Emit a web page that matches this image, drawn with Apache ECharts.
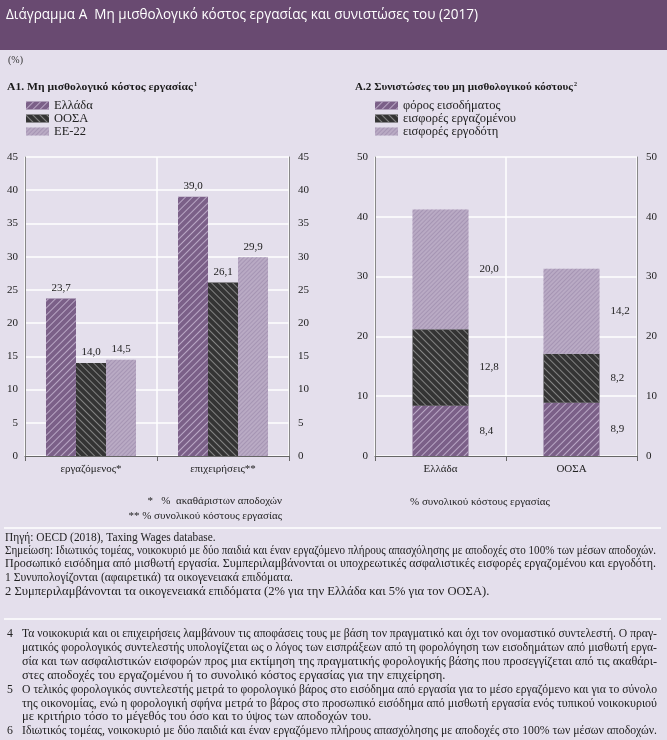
<!DOCTYPE html>
<html>
<head>
<meta charset="utf-8">
<script src="https://cdn.jsdelivr.net/npm/echarts@6/dist/echarts.min.js"></script>
<style>
html,body{margin:0;padding:0;background:#E4DFEC;}
#chart{width:667px;height:740px;}
</style>
</head>
<body>
<div id="chart"></div>
<script>
// ---- Data ----
const catA1 = ['εργαζόμενος*', 'επιχειρήσεις**'];
const greeceA1 = [23.7, 39.0];
const oecdA1 = [14.0, 26.1];
const eu22A1 = [14.5, 29.9];
const seriesNamesA1 = ['Ελλάδα', 'ΟΟΣΑ', 'ΕΕ-22'];

const catA2 = ['Ελλάδα', 'ΟΟΣΑ'];
const incomeTax = [8.4, 8.9];
const employeeSSC = [12.8, 8.2];
const employerSSC = [20.0, 14.2];
const seriesNamesA2 = ['φόρος εισοδήματος', 'εισφορές εργαζομένου', 'εισφορές εργοδότη'];

// ---- Texts ----
const titleText = 'Διάγραμμα Α  Μη μισθολογικό κόστος εργασίας και συνιστώσες του (2017)';
const unitText = '(%)';
const subA1 = 'A1. Μη μισθολογικό κόστος εργασίας';
const subA2 = 'A.2 Συνιστώσες του μη μισθολογικού κόστους';
const starNote1 = '*   %  ακαθάριστων αποδοχών';
const starNote2 = '** % συνολικού κόστους εργασίας';
const a2Note = '% συνολικού κόστους εργασίας';
const notesLines = [
  'Πηγή: OECD (2018), Taxing Wages database.',
  'Σημείωση: Ιδιωτικός τομέας, νοικοκυριό με δύο παιδιά και έναν εργαζόμενο πλήρους απασχόλησης με αποδοχές στο 100% των μέσων αποδοχών.',
  'Προσωπικό εισόδημα από μισθωτή εργασία. Συμπεριλαμβάνονται οι υποχρεωτικές ασφαλιστικές εισφορές εργαζομένου και εργοδότη.',
  '1 Συνυπολογίζονται (αφαιρετικά) τα οικογενειακά επιδόματα.',
  '2 Συμπεριλαμβάνονται τα οικογενειακά επιδόματα (2% για την Ελλάδα και 5% για τον ΟΟΣΑ).'
];
const footNums = ['4', '5', '6'];
const footLines = [
  ['Τα νοικοκυριά και οι επιχειρήσεις λαμβάνουν τις αποφάσεις τους με βάση τον πραγματικό και όχι τον ονομαστικό συντελεστή. Ο πραγ-',
   'ματικός φορολογικός συντελεστής υπολογίζεται ως ο λόγος των εισπράξεων από τη φορολόγηση των εισοδημάτων από μισθωτή εργα-',
   'σία και των ασφαλιστικών εισφορών προς μια εκτίμηση της πραγματικής φορολογικής βάσης που προσεγγίζεται από τις ακαθάρι-',
   'στες αποδοχές του εργαζομένου ή το συνολικό κόστος εργασίας για την επιχείρηση.'],
  ['Ο τελικός φορολογικός συντελεστής μετρά το φορολογικό βάρος στο εισόδημα από εργασία για το μέσο εργαζόμενο και για το σύνολο',
   'της οικονομίας, ενώ η φορολογική σφήνα μετρά το βάρος στο προσωπικό εισόδημα από μισθωτή εργασία ενός τυπικού νοικοκυριού',
   'με κριτήριο τόσο το μέγεθός του όσο και το ύψος των αποδοχών του.'],
  ['Ιδιωτικός τομέας, νοικοκυριό με δύο παιδιά και έναν εργαζόμενο πλήρους απασχόλησης με αποδοχές στο 100% των μέσων αποδοχών.']
];

// ---- Layout / style ----
const SERIF = '"Liberation Serif", "DejaVu Serif", serif';
const BG = '#E4DFEC';
const fmt = v => Number(v).toFixed(1).replace('.', ',');

const styles = {
  greece: { color: '#7B6088', decal: { symbol: 'rect', symbolSize: 1, dashArrayX: [1, 0], dashArrayY: [1, 3.4], rotation: -Math.PI / 4, color: 'rgba(196,180,208,0.85)' } },
  oecd:   { color: '#343434', decal: { symbol: 'rect', symbolSize: 1, dashArrayX: [1, 0], dashArrayY: [1, 3.4], rotation: Math.PI / 4, color: 'rgba(140,140,140,0.9)' } },
  eu:     { color: '#B9AAC4', decal: { symbol: 'rect', symbolSize: 1, dashArrayX: [1, 0], dashArrayY: [0.8, 1.4], rotation: -Math.PI / 4, color: 'rgba(150,132,165,0.55)' } }
};

const cv = document.createElement('canvas').getContext('2d');
function measure(t, font) { cv.font = font; return cv.measureText(t).width; }
function textEl(t, font, x, y, s, fill, align) {
  return { type: 'text', x: x, y: y, scaleX: s, silent: true,
    style: { text: t, font: font, fill: fill || '#222', align: align || 'left', verticalAlign: 'middle' } };
}
function fitText(t, font, x, y, w, fill, align) {
  const m = measure(t, font);
  return textEl(t, font, x, y, w ? w / m : 1, fill, align);
}

const graphics = [];
graphics.push({ type: 'rect', shape: { x: 0, y: 0, width: 667, height: 50 }, style: { fill: '#694A71' }, silent: true, z: -1 });
graphics.push(fitText(titleText, '14px "Open Sans"', 6, 15, 472, '#FFFFFF'));
graphics.push(fitText(unitText, '10px ' + SERIF, 8, 60, 0, '#333'));
// subtitles with superscripts
const subFont = 'bold 11px ' + SERIF;
const supStyle = { font: 'bold 6px ' + SERIF, fill: '#1a1a1a', verticalAlign: 'top', padding: [0, 0, 6, 1] };
const sA1 = 186 / measure(subA1, subFont);
graphics.push({ type: 'text', x: 7, y: 87, scaleX: sA1, silent: true,
  style: { text: '{a|' + subA1 + '}{s|1}', verticalAlign: 'middle', rich: { a: { font: subFont, fill: '#1a1a1a' }, s: supStyle } } });
const sA2 = 218 / measure(subA2, subFont);
graphics.push({ type: 'text', x: 355, y: 87, scaleX: sA2, silent: true,
  style: { text: '{a|' + subA2 + '}{s|2}', verticalAlign: 'middle', rich: { a: { font: subFont, fill: '#1a1a1a' }, s: supStyle } } });

graphics.push(fitText(starNote1, '11px ' + SERIF, 282, 501, 0, '#222', 'right'));
graphics.push(fitText(starNote2, '11px ' + SERIF, 282, 516, 0, '#222', 'right'));
graphics.push(fitText(a2Note, '11px ' + SERIF, 410, 502, 0, '#222'));

// separators
graphics.push({ type: 'line', shape: { x1: 4, y1: 528, x2: 661, y2: 528 }, style: { stroke: '#FFFFFF', lineWidth: 1.5 }, silent: true });
graphics.push({ type: 'line', shape: { x1: 4, y1: 619, x2: 661, y2: 619 }, style: { stroke: '#FFFFFF', lineWidth: 1.5 }, silent: true });

// notes: full lines fitted exactly, short lines use the common scale (slightly stretched towards their target)
const noteFont = '11.5px ' + SERIF;
const noteY = [538, 551, 564, 578, 592];
const noteW = [208, 651, 651, 288, 498];
const noteFull = [false, true, true, false, false];
const footY = [[634, 648, 662, 676], [690, 704, 717], [731]];
const footW = [[635, 635, 635, 425], [635, 635, 431], [635]];
const footFull = [[true, true, true, false], [true, true, false], [true]];

let scales = [];
notesLines.forEach((t, i) => { if (noteFull[i]) scales.push(noteW[i] / measure(t, noteFont)); });
footLines.forEach((lines, i) => lines.forEach((t, j) => { if (footFull[i][j]) scales.push(footW[i][j] / measure(t, noteFont)); }));
const common = scales.reduce((a, b) => a + b, 0) / scales.length;
function shortScale(t, w) {
  const nat = measure(t, noteFont) * common;
  return common * Math.max(0.97, Math.min(1.07, w / nat));
}
notesLines.forEach((t, i) => {
  const s = noteFull[i] ? noteW[i] / measure(t, noteFont) : shortScale(t, noteW[i]);
  graphics.push(textEl(t, noteFont, 5, noteY[i], s, '#222'));
});
footLines.forEach((lines, i) => {
  graphics.push(textEl(footNums[i], noteFont, 7, footY[i][0], common, '#222'));
  lines.forEach((t, j) => {
    const s = footFull[i][j] ? footW[i][j] / measure(t, noteFont) : shortScale(t, footW[i][j]);
    graphics.push(textEl(t, noteFont, 22, footY[i][j], s, '#222'));
  });
});

const axisLabelStyle = { fontFamily: SERIF, fontSize: 11, color: '#222' };
const labelStyle = { fontFamily: SERIF, fontSize: 11, color: '#222' };

function yAxis(gridIndex, pos, max, interval, showSplit) {
  return {
    type: 'value', gridIndex: gridIndex, position: pos, min: 0, max: max, interval: interval,
    axisLine: { show: true, lineStyle: { color: '#888', width: 1 } },
    axisTick: { show: false },
    axisLabel: Object.assign({ margin: pos === 'left' ? 7 : 9 }, axisLabelStyle),
    splitLine: { show: showSplit, lineStyle: { color: '#FFFFFF', width: 1.5 } }
  };
}
function xAxis(gridIndex, data) {
  return {
    type: 'category', gridIndex: gridIndex, data: data,
    axisLine: { show: true, lineStyle: { color: '#666', width: 1 } },
    axisTick: { show: true, length: 5, lineStyle: { color: '#666' } },
    axisLabel: Object.assign({ margin: 8 }, axisLabelStyle),
    splitLine: { show: true, lineStyle: { color: '#FFFFFF', width: 1.5 } }
  };
}

const legendText = { fontFamily: SERIF, fontSize: 12.5, color: '#222', lineHeight: 13 };
const option = {
  backgroundColor: BG,
  animation: false,
  grid: [
    { left: 25, top: 157, width: 264, height: 299 },
    { left: 375, top: 157, width: 262, height: 299 }
  ],
  xAxis: [xAxis(0, catA1), xAxis(1, catA2)],
  yAxis: [
    yAxis(0, 'left', 45, 5, true), yAxis(0, 'right', 45, 5, false),
    yAxis(1, 'left', 50, 10, true), yAxis(1, 'right', 50, 10, false)
  ],
  legend: [
    { data: seriesNamesA1, left: 26, top: 99, padding: 0, orient: 'vertical', itemWidth: 23, itemHeight: 8, itemGap: 0, icon: 'rect',
      textStyle: legendText, selectedMode: false },
    { data: seriesNamesA2, left: 375, top: 99, padding: 0, orient: 'vertical', itemWidth: 23, itemHeight: 8, itemGap: 0, icon: 'rect',
      textStyle: legendText, selectedMode: false }
  ],
  series: [
    { name: seriesNamesA1[0], type: 'bar', xAxisIndex: 0, yAxisIndex: 0, data: greeceA1, barWidth: 30, barGap: '0%',
      itemStyle: styles.greece, label: Object.assign({ show: true, position: 'top', distance: 5, formatter: p => fmt(p.value) }, labelStyle) },
    { name: seriesNamesA1[1], type: 'bar', xAxisIndex: 0, yAxisIndex: 0, data: oecdA1, barWidth: 30, barGap: '0%',
      itemStyle: styles.oecd, label: Object.assign({ show: true, position: 'top', distance: 5, formatter: p => fmt(p.value) }, labelStyle) },
    { name: seriesNamesA1[2], type: 'bar', xAxisIndex: 0, yAxisIndex: 0, data: eu22A1, barWidth: 30, barGap: '0%',
      itemStyle: styles.eu, label: Object.assign({ show: true, position: 'top', distance: 5, formatter: p => fmt(p.value) }, labelStyle) },
    { name: seriesNamesA2[0], type: 'bar', stack: 'a2', xAxisIndex: 1, yAxisIndex: 2, data: incomeTax, barWidth: 56,
      itemStyle: styles.greece, label: Object.assign({ show: true, position: 'right', distance: 11, formatter: p => fmt(p.value) }, labelStyle) },
    { name: seriesNamesA2[1], type: 'bar', stack: 'a2', xAxisIndex: 1, yAxisIndex: 2, data: employeeSSC, barWidth: 56,
      itemStyle: styles.oecd, label: Object.assign({ show: true, position: 'right', distance: 11, formatter: p => fmt(p.value) }, labelStyle) },
    { name: seriesNamesA2[2], type: 'bar', stack: 'a2', xAxisIndex: 1, yAxisIndex: 2, data: employerSSC, barWidth: 56,
      itemStyle: styles.eu, label: Object.assign({ show: true, position: 'right', distance: 11, formatter: p => fmt(p.value) }, labelStyle) }
  ],
  graphic: { elements: graphics }
};

const chart = echarts.init(document.getElementById('chart'), null, { renderer: 'canvas' });
chart.setOption(option);
</script>
</body>
</html>
